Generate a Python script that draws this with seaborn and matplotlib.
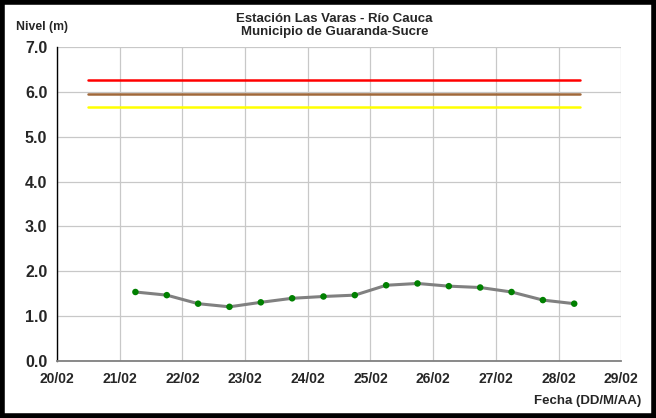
import pandas as pd
import numpy as np
import seaborn as sns
import matplotlib.pyplot as plt
import matplotlib.dates as mdates
from matplotlib.patches import Rectangle

# Data (readings every 12 h)
fechas = pd.date_range("2016-02-21 06:00", "2016-02-28 06:00", freq="12h")
nivel = [1.54, 1.47, 1.28, 1.21, 1.31, 1.40, 1.44, 1.47,
         1.69, 1.73, 1.67, 1.64, 1.54, 1.36, 1.28]

# Alert thresholds
umbral_inicio = pd.Timestamp("2016-02-20 12:00")
umbral_fin = pd.Timestamp("2016-02-28 08:15")
umbral_rojo = 6.25
umbral_naranja = 5.95
umbral_amarillo = 5.65

dias = pd.date_range("2016-02-20", "2016-02-29", freq="D")

serie = pd.DataFrame({"fecha": fechas, "nivel": nivel})
umbrales = pd.DataFrame({
    "fecha": [umbral_inicio, umbral_fin] * 3,
    "nivel": [umbral_rojo] * 2 + [umbral_naranja] * 2 + [umbral_amarillo] * 2,
    "alerta": ["roja"] * 2 + ["naranja"] * 2 + ["amarilla"] * 2,
})

sns.set_style("white")
plt.rcParams['font.family'] = ['Liberation Sans', 'DejaVu Sans']
plt.rcParams['font.weight'] = 'bold'

fig, ax = plt.subplots(figsize=(6.56, 4.18), dpi=100)
fig.subplots_adjust(left=0.087, right=0.947, top=0.888, bottom=0.136)

sns.lineplot(data=umbrales, x="fecha", y="nivel", hue="alerta",
             palette={"roja": "#ff0000", "naranja": "#a0683a", "amarilla": "#ffff00"},
             linewidth=1.8, legend=False, ax=ax)
sns.lineplot(data=serie, x="fecha", y="nivel", color="#808080",
             linewidth=2.2, ax=ax)
sns.scatterplot(data=serie, x="fecha", y="nivel", color="#008000",
                s=22, edgecolor="none", zorder=5, ax=ax)

ax.set_xlim(dias[0], dias[-1])
ax.set_ylim(0, 7)
ax.set_yticks(np.arange(0, 7.1, 1.0))
ax.set_yticklabels([f"{v:.1f}" for v in np.arange(0, 7.1, 1.0)],
                   fontsize=11.5, fontweight="bold")
ax.set_xticks(dias)
ax.xaxis.set_major_formatter(mdates.DateFormatter("%d/%m"))
for lbl in ax.get_xticklabels():
    lbl.set_fontsize(10)
    lbl.set_fontweight("bold")

ax.grid(True, color="#c8c8c8", linewidth=0.9)
ax.set_axisbelow(True)
ax.tick_params(axis="both", direction="out", length=4, width=1, color="black", pad=3)
ax.tick_params(axis="x", pad=4)
for side in ["top", "right"]:
    ax.spines[side].set_visible(False)
ax.spines["left"].set_color("black")
ax.spines["left"].set_linewidth(1.0)
ax.spines["bottom"].set_color("#808080")
ax.spines["bottom"].set_linewidth(1.3)
ax.set_xlabel("")
ax.set_ylabel("")

fig.text(0.51, 0.968, "Estación Las Varas - Río Cauca\nMunicipio de Guaranda-Sucre",
         ha="center", va="top", fontsize=9.5, fontweight="bold", linespacing=1.1)
fig.text(0.024, 0.935, "Nivel (m)", ha="left", va="center", fontsize=8.8, fontweight="bold")
fig.text(0.977, 0.04, "Fecha (DD/M/AA)", ha="right", va="center", fontsize=9.5, fontweight="bold")

fig.patches.append(Rectangle((0.003, 0.004), 0.994, 0.992, transform=fig.transFigure,
                             fill=False, edgecolor="black", linewidth=4))

plt.savefig("out.png", dpi=100)
